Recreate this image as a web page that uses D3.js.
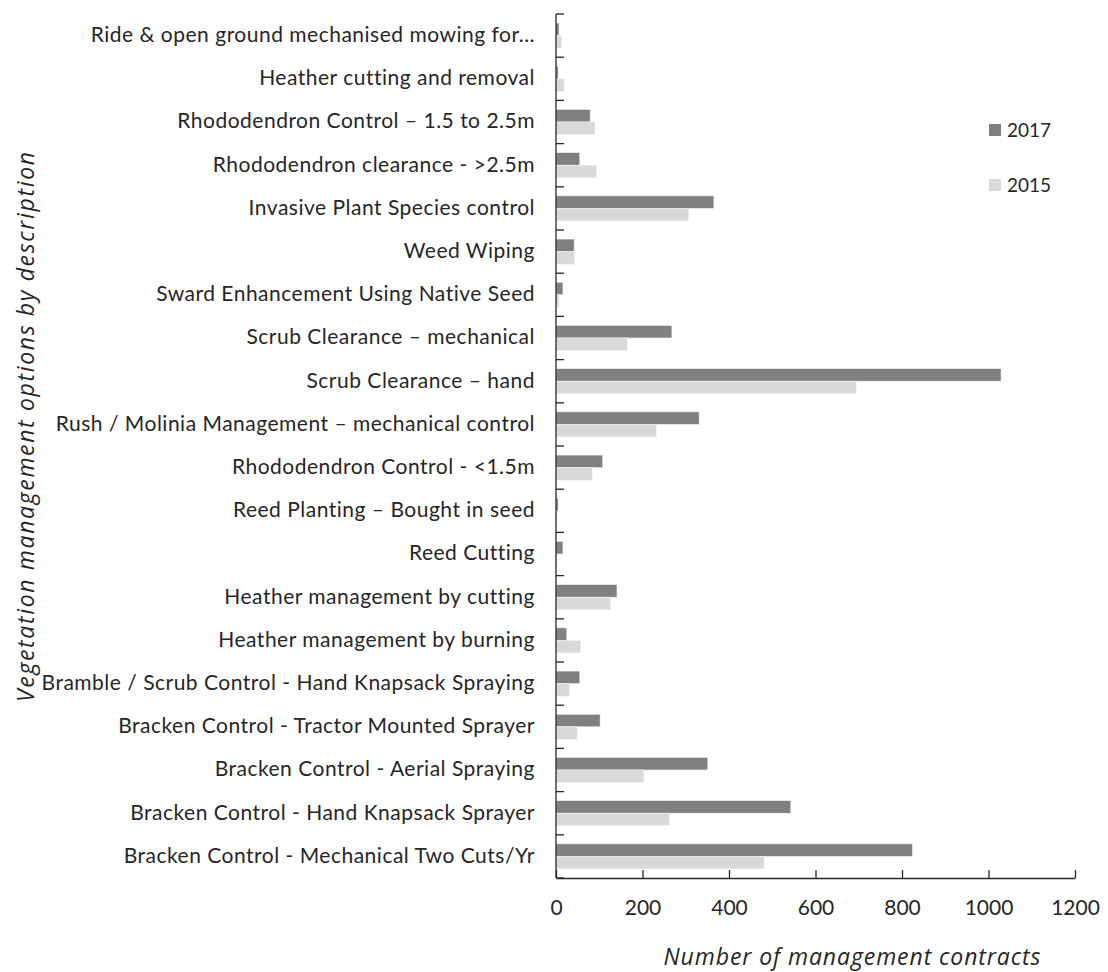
<!DOCTYPE html>
<html>
<head>
<meta charset="utf-8">
<script src="https://cdn.jsdelivr.net/npm/d3@7"></script>
<style>
  html, body { margin: 0; padding: 0; background: #fff; }
  svg { display: block; font-family: "Lato", "Liberation Sans", sans-serif; }
</style>
</head>
<body>
<svg id="chart" width="1108" height="972"></svg>
<script>
// Vegetation management options, listed top to bottom
const categories = [
  "Ride & open ground mechanised mowing for\u2026",
  "Heather cutting and removal",
  "Rhododendron Control \u2013 1.5 to 2.5m",
  "Rhododendron clearance - >2.5m",
  "Invasive Plant Species control",
  "Weed Wiping",
  "Sward Enhancement Using Native Seed",
  "Scrub Clearance \u2013 mechanical",
  "Scrub Clearance \u2013 hand",
  "Rush / Molinia Management \u2013 mechanical control",
  "Rhododendron Control - <1.5m",
  "Reed Planting \u2013 Bought in seed",
  "Reed Cutting",
  "Heather management by cutting",
  "Heather management by burning",
  "Bramble / Scrub Control - Hand Knapsack Spraying",
  "Bracken Control - Tractor Mounted Sprayer",
  "Bracken Control - Aerial Spraying",
  "Bracken Control - Hand Knapsack Sprayer",
  "Bracken Control - Mechanical Two Cuts/Yr"
];

// Number of management contracts per option
const values2017 = [7, 5, 79, 55, 365, 42, 16, 268, 1029, 331, 108, 5, 16, 141, 25, 55, 102, 351, 543, 824];
const values2015 = [13, 19, 90, 94, 307, 43, 7, 165, 694, 232, 84, 2, 2, 126, 57, 31, 49, 203, 262, 481];

const seriesNames = ["2017", "2015"];
const seriesColors = ["#808080", "#d9d9d9"];
const xTicks = [0, 200, 400, 600, 800, 1000, 1200];

const rows = categories.map((c, i) => ({ category: c, values: [values2017[i], values2015[i]] }));

const svg = d3.select("#chart");
const margin = { left: 556, right: 33, top: 14, bottom: 94 };
const W = 1108, H = 972;
const textColor = "#262626";

const x = d3.scaleLinear().domain([0, 1200]).range([margin.left, W - margin.right]);
const y = d3.scaleBand().domain(categories).range([margin.top, H - margin.bottom]).paddingInner(0.42).paddingOuter(0.21);
const ySeries = d3.scaleBand().domain(seriesNames).range([0, y.bandwidth()]);

// Bars
const groups = svg.append("g").selectAll("g").data(rows).join("g")
  .attr("transform", d => `translate(0,${y(d.category)})`);
groups.selectAll("rect")
  .data(d => d.values.map((v, i) => ({ series: seriesNames[i], value: v, color: seriesColors[i] })))
  .join("rect")
  .attr("x", x(0))
  .attr("y", d => ySeries(d.series))
  .attr("width", d => x(d.value) - x(0))
  .attr("height", ySeries.bandwidth())
  .attr("fill", d => d.color)
  .attr("stroke", "#f2f2f2")
  .attr("stroke-width", 0.6);

// Category axis: ticks on band boundaries, pointing into the plot
const yAxisG = svg.append("g");
yAxisG.append("line")
  .attr("x1", x(0)).attr("x2", x(0))
  .attr("y1", margin.top).attr("y2", H - margin.bottom)
  .attr("stroke", textColor).attr("stroke-width", 1.3);
const boundaries = d3.range(categories.length + 1).map(i => margin.top + i * (H - margin.top - margin.bottom) / categories.length);
yAxisG.selectAll("line.tick").data(boundaries).join("line")
  .attr("class", "tick")
  .attr("x1", x(0)).attr("x2", x(0) + 8)
  .attr("y1", d => d).attr("y2", d => d)
  .attr("stroke", textColor).attr("stroke-width", 1.3);
yAxisG.selectAll("text").data(categories).join("text")
  .attr("x", x(0) - 21)
  .attr("y", d => y(d) + y.bandwidth() / 2)
  .attr("dy", "0.3em")
  .attr("text-anchor", "end")
  .attr("fill", textColor)
  .style("font-size", "21px")
  .style("letter-spacing", "0.5px")
  .text(d => d);

// Value axis along the bottom
const xAxisG = svg.append("g").attr("transform", `translate(0,${H - margin.bottom})`)
  .call(d3.axisBottom(x).tickValues(xTicks).tickSize(-8).tickSizeOuter(0).tickPadding(14).tickFormat(d3.format("d")));
xAxisG.select(".domain").attr("stroke", textColor).attr("stroke-width", 1.3);
xAxisG.selectAll(".tick line").attr("stroke", textColor).attr("stroke-width", 1.3);
xAxisG.selectAll(".tick text")
  .attr("y", 37).attr("dy", null)
  .attr("fill", textColor)
  .style("font-size", "21px")
  .style("font-family", "Lato, 'Liberation Sans', sans-serif");

// Axis titles
svg.append("text")
  .attr("x", 852).attr("y", 965)
  .attr("text-anchor", "middle")
  .attr("fill", textColor)
  .attr("textLength", 377).attr("lengthAdjust", "spacing")
  .style("font-family", "'Open Sans', Lato, sans-serif")
  .style("font-size", "23px").style("font-style", "italic")
  .text("Number of management contracts");
svg.append("text")
  .attr("transform", "translate(34,427) rotate(-90)")
  .attr("text-anchor", "middle")
  .attr("fill", textColor)
  .attr("textLength", 550).attr("lengthAdjust", "spacing")
  .style("font-family", "'Open Sans', Lato, sans-serif")
  .style("font-size", "23px").style("font-style", "italic")
  .text("Vegetation management options by description");

// Legend
const legend = svg.append("g").selectAll("g").data(seriesNames).join("g")
  .attr("transform", (d, i) => `translate(989,${124 + i * 55})`);
legend.append("rect").attr("width", 12).attr("height", 12)
  .attr("fill", (d, i) => seriesColors[i]);
legend.append("text").attr("x", 18).attr("y", 6).attr("dy", "0.36em")
  .attr("fill", textColor).style("font-size", "19px")
  .text(d => d);
</script>
</body>
</html>
